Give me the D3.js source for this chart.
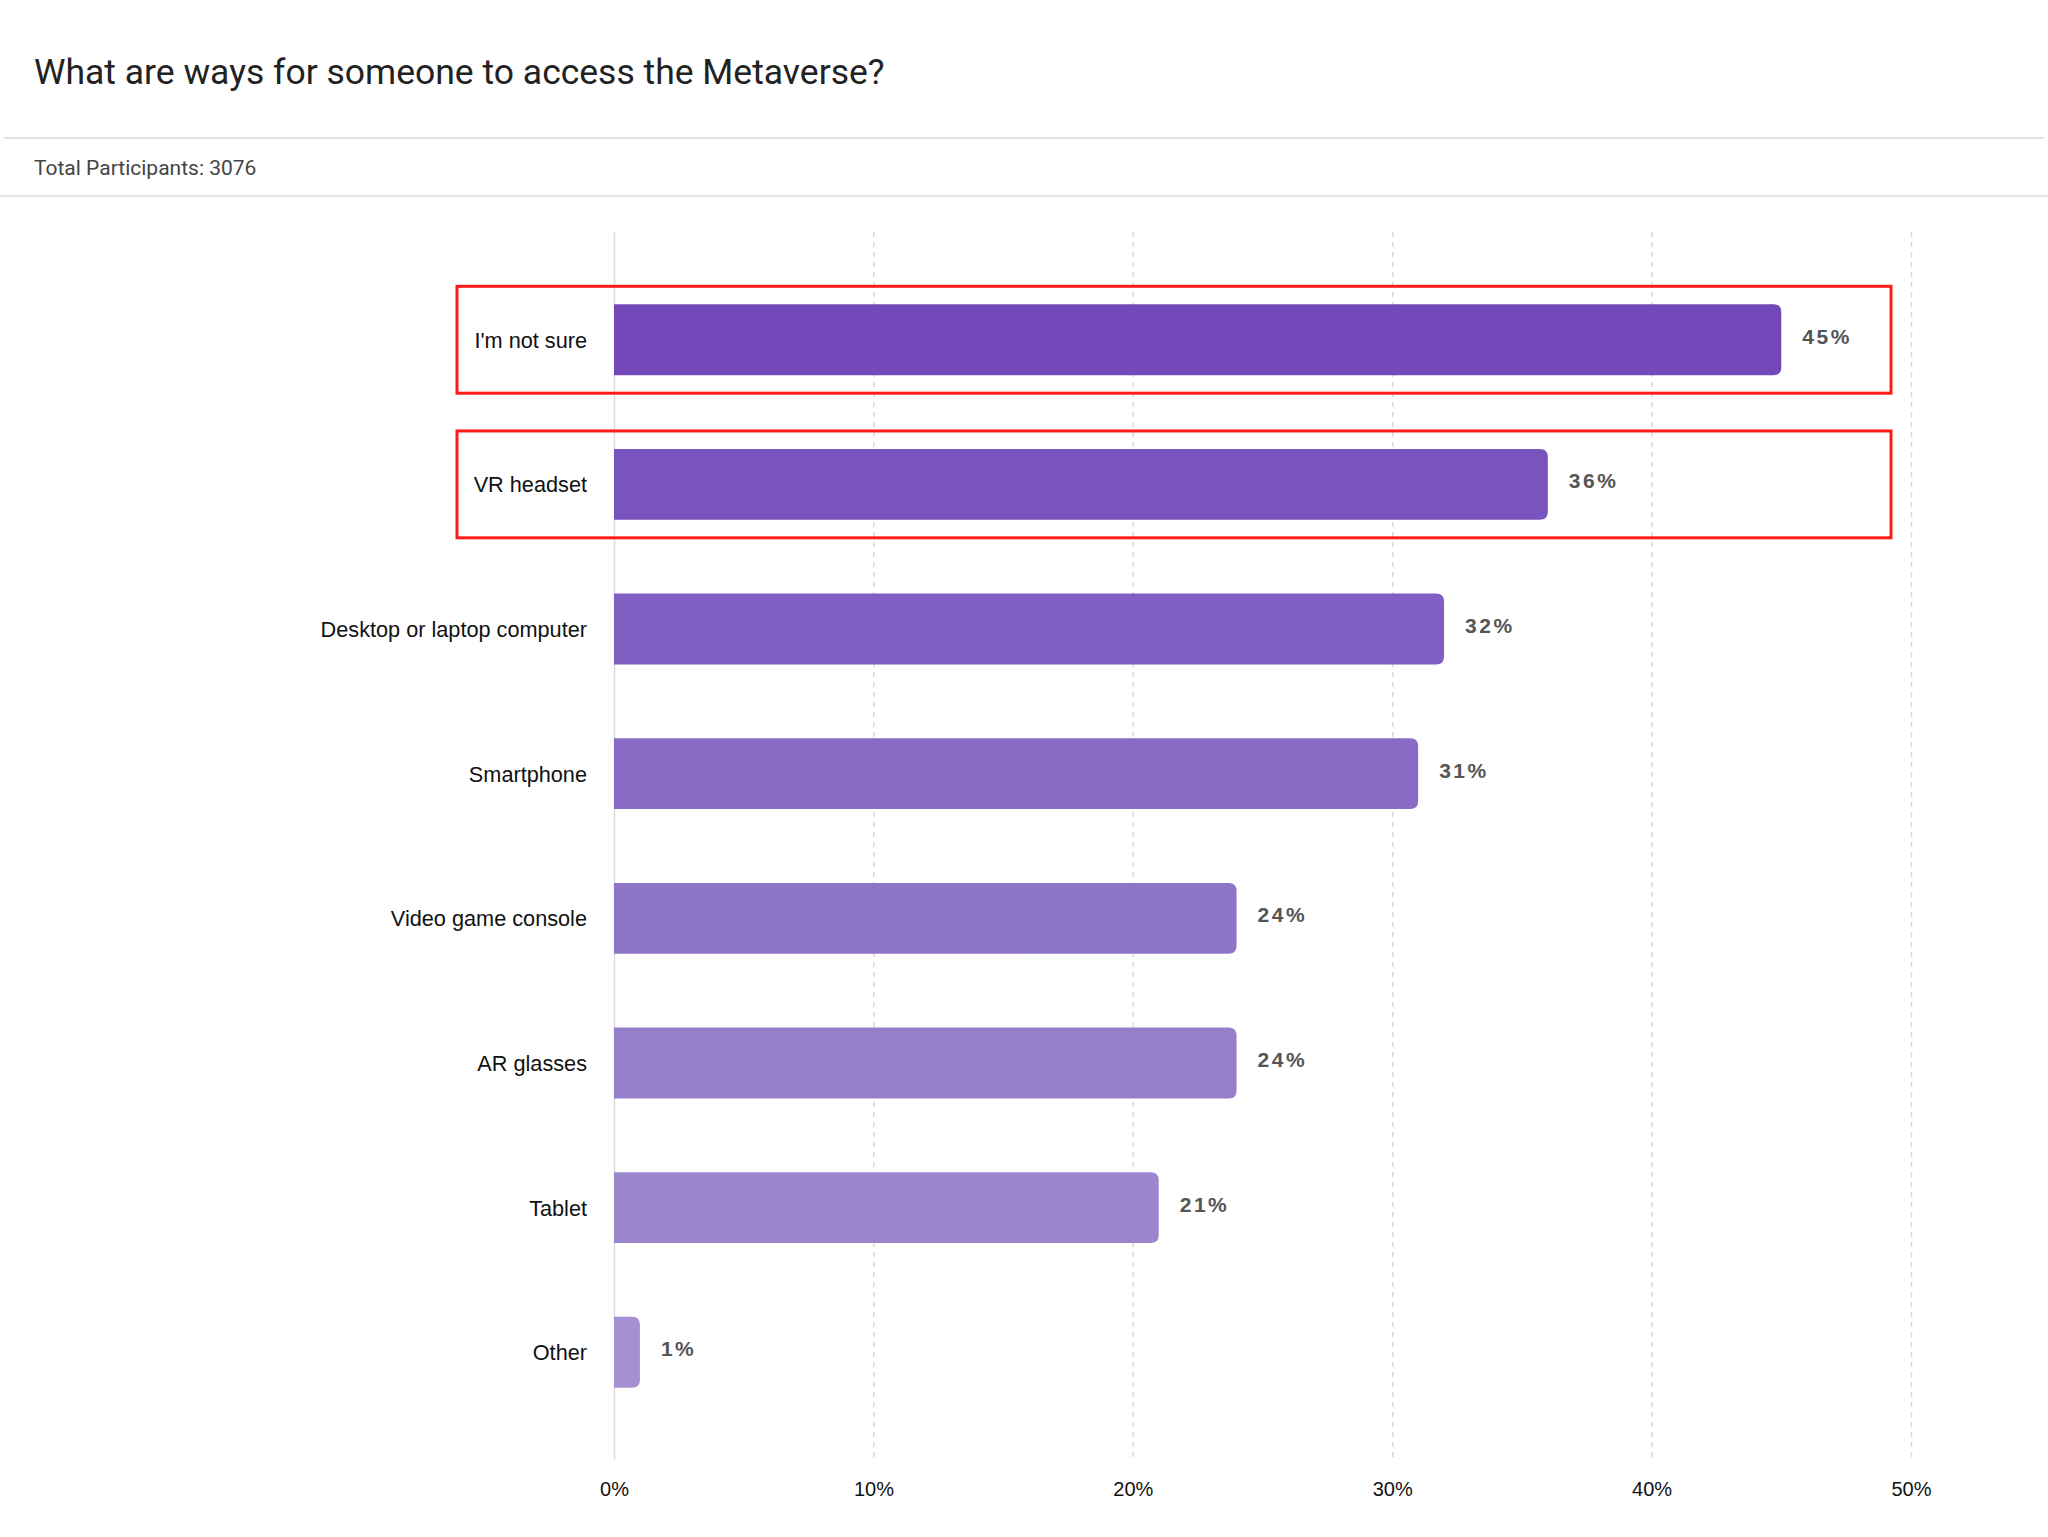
<!DOCTYPE html>
<html>
<head>
<meta charset="utf-8">
<script src="https://cdn.jsdelivr.net/npm/d3@7"></script>
<style>
  body { margin: 0; background: #fff; }
  svg { display: block; }
</style>
</head>
<body>
<svg id="chart" width="2048" height="1537"></svg>
<script>
'use strict';

// survey answers, top to bottom
var categories = ["I'm not sure", "VR headset", "Desktop or laptop computer", "Smartphone",
    "Video game console", "AR glasses", "Tablet", "Other"];
var values = [45, 36, 32, 31, 24, 24, 21, 1];
var barColors = ["#7349ba", "#7a54be", "#815fc2", "#886bc5", "#8f75c8", "#967fca", "#9b87cc", "#a591d1"];
var highlighted = ["I'm not sure", "VR headset"];
var xTicks = [0, 10, 20, 30, 40, 50];

var titleText = "What are ways for someone to access the Metaverse?",
    subtitleText = "Total Participants: 3076";

var svg = d3.select("#chart"),
    width = 2048,
    plotLeft = 614, plotRight = 1911,
    plotTop = 232, plotBottom = 1460;

// header
svg.append("text")
    .attr("x", 34).attr("y", 84)
    .style("font-family", "Roboto, sans-serif")
    .style("font-size", "35.5px")
    .style("fill", "#222")
    .text(titleText);

svg.append("line")
    .attr("x1", 4).attr("x2", width - 4)
    .attr("y1", 138).attr("y2", 138)
    .style("stroke", "#e3e3e3").style("stroke-width", 2);

svg.append("text")
    .attr("x", 34).attr("y", 175)
    .style("font-family", "Roboto, sans-serif")
    .style("font-size", "21px")
    .style("fill", "#444")
    .text(subtitleText);

svg.append("line")
    .attr("x1", 0).attr("x2", width)
    .attr("y1", 196).attr("y2", 196)
    .style("stroke", "#e3e3e3").style("stroke-width", 2);

var x = d3.scaleLinear().domain([0, 50]).range([plotLeft, plotRight]);
var y = d3.scaleBand().domain(categories).range([plotTop, plotBottom])
    .paddingInner(0.51).paddingOuter(0.5);

// grid
svg.append("g").selectAll("line")
    .data(xTicks)
    .join("line")
    .attr("x1", function(d) { return x(d) + 0.5; })
    .attr("x2", function(d) { return x(d) + 0.5; })
    .attr("y1", plotTop).attr("y2", plotBottom)
    .style("stroke", function(d) { return d === 0 ? "#dcdcdc" : "#d8d8d8"; })
    .style("stroke-width", 1.5)
    .style("stroke-dasharray", function(d) { return d === 0 ? null : "5 5"; });

// x axis labels
var xAxis = d3.axisBottom(x).tickValues(xTicks)
    .tickFormat(function(d) { return d + "%"; })
    .tickSize(0).tickPadding(0);

var axisG = svg.append("g")
    .attr("transform", "translate(0," + 1482 + ")")
    .call(xAxis);
axisG.select(".domain").remove();
axisG.selectAll("text")
    .style("font-family", "'Liberation Sans', Arial, sans-serif")
    .style("font-size", "20px")
    .style("fill", "#111");

// bars with rounded right end
function barPath(x0, y0, w, h, r) {
    r = Math.min(r, w);
    return "M" + x0 + "," + y0 +
        "H" + (x0 + w - r) +
        "Q" + (x0 + w) + "," + y0 + " " + (x0 + w) + "," + (y0 + r) +
        "V" + (y0 + h - r) +
        "Q" + (x0 + w) + "," + (y0 + h) + " " + (x0 + w - r) + "," + (y0 + h) +
        "H" + x0 + "Z";
}

var rows = categories.map(function(c, i) { return { cat: c, value: values[i], color: barColors[i] }; });

svg.append("g").selectAll("path")
    .data(rows)
    .join("path")
    .attr("d", function(d) {
        return barPath(x(0), y(d.cat), x(d.value) - x(0), y.bandwidth(), 8);
    })
    .style("fill", function(d) { return d.color; });

// value labels
svg.append("g").selectAll("text")
    .data(rows)
    .join("text")
    .attr("x", function(d) { return x(d.value) + 21; })
    .attr("y", function(d) { return y(d.cat) + y.bandwidth() / 2 + 4; })
    .style("font-family", "'Liberation Sans', Arial, sans-serif")
    .style("font-weight", "bold")
    .style("font-size", "21px")
    .style("letter-spacing", "2.5px")
    .style("fill", "#555")
    .text(function(d) { return d.value + "%"; });

// category labels
svg.append("g").selectAll("text")
    .data(rows)
    .join("text")
    .attr("x", 587)
    .attr("y", function(d) { return y(d.cat) + y.bandwidth() / 2 + 8; })
    .style("text-anchor", "end")
    .style("font-family", "'Liberation Sans', Arial, sans-serif")
    .style("font-size", "21.7px")
    .style("fill", "#111")
    .text(function(d) { return d.cat; });

// red highlight boxes
svg.append("g").selectAll("rect")
    .data(highlighted)
    .join("rect")
    .attr("x", 457)
    .attr("y", function(d) { return y(d) - 18; })
    .attr("width", 1434)
    .attr("height", function() { return y.bandwidth() + 36; })
    .style("fill", "none")
    .style("stroke", "#ff1a1a")
    .style("stroke-width", 3);
</script>
</body>
</html>
